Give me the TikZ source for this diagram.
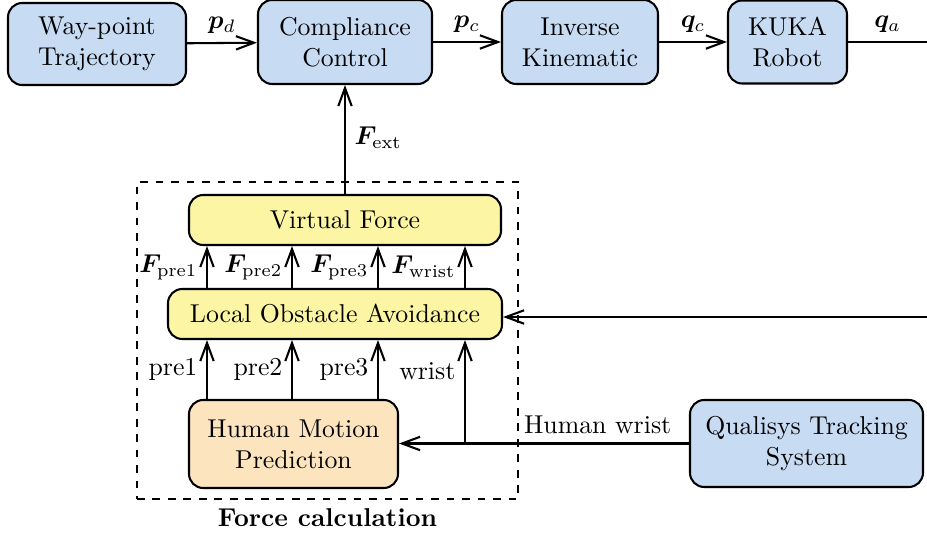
\documentclass[tikz,border=0pt]{standalone}
\usepackage{amsmath}
\usepackage{bm}
\usetikzlibrary{arrows.meta}
\definecolor{blockblue}{HTML}{C7DBF3}
\definecolor{blockyellow}{HTML}{FBF5A4}
\definecolor{blockorange}{HTML}{FCE4BE}
\def\px{0.3876pt}
\tikzset{
  block/.style={draw=black, thick, rounded corners=5.5pt, align=center,
    inner sep=0pt, fill=blockblue},
  forceblock/.style={block, fill=blockyellow},
  humanblock/.style={block, fill=blockorange},
  link/.style={thick, -{Straight Barb[length=7pt, width=5.2pt]}},
  groupframe/.style={draw=black, thick, dashed, inner sep=0pt}
}
\begin{document}
\begin{tikzpicture}[x=0.3876pt, y=-0.3876pt]
\useasboundingbox (0,0) rectangle (927,533);

% top row: trajectory -> control -> kinematics -> robot
\node[block, minimum width=178*\px, minimum height=82*\px] (wp) at (97,44) {Way-point\\Trajectory};
\node[block, minimum width=174*\px, minimum height=84*\px] (cc) at (345,42) {Compliance\\Control};
\node[block, minimum width=156*\px, minimum height=84*\px] (ik) at (580,42) {Inverse\\Kinematic};
\node[block, minimum width=119*\px, minimum height=83*\px] (kuka) at (787.5,42) {KUKA\\Robot};
\coordinate (qout) at (927,42);

\draw[link] (wp) -- node[above] {$\bm{p}_d$} (cc);
\draw[link] (cc) -- node[above] {$\bm{p}_c$} (ik);
\draw[link] (ik) -- node[above] {$\bm{q}_c$} (kuka);
\draw[thick] (kuka) -- node[above] {$\bm{q}_a$} (qout);

% force calculation group
\node[groupframe, minimum width=381*\px, minimum height=317*\px] (fc) at (327.5,340.5) {};
\node[below, inner sep=3.3pt] (fclabel) at (fc.south) {\textbf{Force calculation}};

\node[forceblock, minimum width=312*\px, minimum height=50*\px] (vf) at (345,220) {Virtual Force};
\node[forceblock, minimum width=334*\px, minimum height=50*\px] (loa) at (335,314) {Local Obstacle Avoidance};
\node[humanblock, minimum width=209*\px, minimum height=88*\px] (hmp) at (293.5,444) {Human Motion\\Prediction};

% tracking system
\node[block, minimum width=233*\px, minimum height=87*\px] (qts) at (806.5,443.5) {Qualisys Tracking\\System};

\draw[link] (vf) -- node[right, pos=0.52] {$\bm{F}_{\text{ext}}$} (cc);

% column positions of the vertical signals
\coordinate (c1) at (207,0);
\coordinate (c2) at (292,0);
\coordinate (c3) at (378,0);
\coordinate (c4) at (465,0);

\draw[link] (c1 |- loa.north) -- node[left] {$\bm{F}_{\text{pre1}}$} (c1 |- vf.south);
\draw[link] (c2 |- loa.north) -- node[left] {$\bm{F}_{\text{pre2}}$} (c2 |- vf.south);
\draw[link] (c3 |- loa.north) -- node[left] {$\bm{F}_{\text{pre3}}$} (c3 |- vf.south);
\draw[link] (c4 |- loa.north) -- node[left] {$\bm{F}_{\text{wrist}}$} (c4 |- vf.south);

\draw[link] (c1 |- hmp.north) -- node[left] {pre1} (c1 |- loa.south);
\draw[link] (c2 |- hmp.north) -- node[left] {pre2} (c2 |- loa.south);
\draw[link] (c3 |- hmp.north) -- node[left] {pre3} (c3 |- loa.south);

% wrist data from the tracking system
\draw[link] (qts.west) -- node[above, pos=0.315] {Human wrist} (hmp.east |- qts.west);
\coordinate (wj) at (c4 |- qts.west);
\draw[link] (wj) -- node[left, pos=0.7] {wrist} (c4 |- loa.south);

% external input into obstacle avoidance
\coordinate (obsin) at (927,317);
\draw[link] (obsin) -- (obsin -| loa.east);
\end{tikzpicture}
\end{document}
